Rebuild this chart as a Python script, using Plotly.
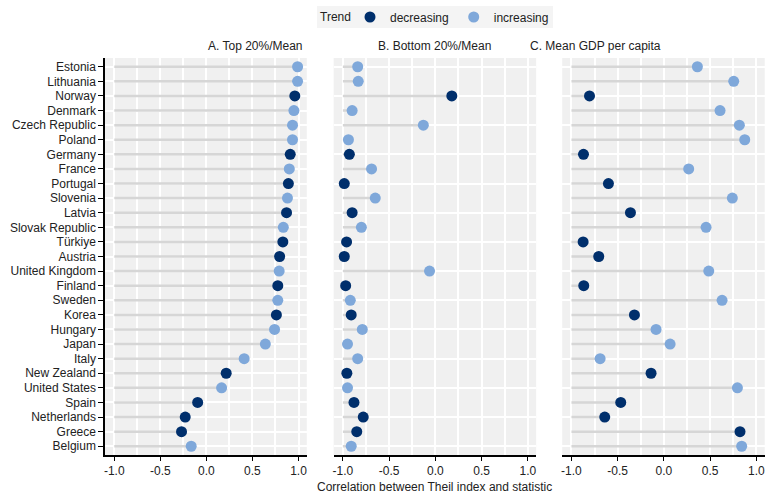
import plotly.graph_objects as go

countries = ["Estonia", "Lithuania", "Norway", "Denmark", "Czech Republic", "Poland", "Germany",
             "France", "Portugal", "Slovenia", "Latvia", "Slovak Republic", "Türkiye", "Austria",
             "United Kingdom", "Finland", "Sweden", "Korea", "Hungary", "Japan", "Italy",
             "New Zealand", "United States", "Spain", "Netherlands", "Greece", "Belgium"]
trend = ["increasing", "increasing", "decreasing", "increasing", "increasing", "increasing", "decreasing",
         "increasing", "decreasing", "increasing", "decreasing", "increasing", "decreasing", "decreasing",
         "increasing", "decreasing", "increasing", "decreasing", "increasing", "increasing", "increasing",
         "decreasing", "increasing", "decreasing", "decreasing", "decreasing", "increasing"]
top20 = [0.99, 0.99, 0.96, 0.95, 0.935, 0.935, 0.91, 0.90, 0.89, 0.88, 0.87, 0.835, 0.83, 0.795,
         0.79, 0.775, 0.775, 0.76, 0.74, 0.64, 0.41, 0.215, 0.165, -0.095, -0.23, -0.27, -0.165]
bottom20 = [-0.84, -0.834, 0.178, -0.90, -0.13, -0.94, -0.93, -0.69, -0.985, -0.65, -0.90, -0.80, -0.96, -0.985,
            -0.063, -0.97, -0.92, -0.91, -0.79, -0.95, -0.84, -0.957, -0.95, -0.88, -0.78, -0.85, -0.91]
gdp = [0.362, 0.755, -0.805, 0.607, 0.816, 0.874, -0.87, 0.268, -0.60, 0.74, -0.362, 0.456, -0.874, -0.705,
       0.485, -0.867, 0.629, -0.319, -0.085, 0.067, -0.69, -0.139, 0.795, -0.467, -0.64, 0.823, 0.841]

panels = [("A. Top 20%/Mean", top20), ("B. Bottom 20%/Mean", bottom20), ("C. Mean GDP per capita", gdp)]
colors = {"decreasing": "#002F6C", "increasing": "#7FA8DA"}
FONT = "Liberation Sans, Arial, sans-serif"
domains = [[0.137, 0.400], [0.435, 0.699], [0.733, 0.997]]
W, H, T, B = 767, 493, 58, 38
PH = H - T - B

fig = go.Figure()
for i, (title, vals) in enumerate(panels):
    xa = "x" if i == 0 else f"x{i+1}"
    ya = "y" if i == 0 else f"y{i+1}"
    lx, ly = [], []
    for c, v in zip(countries, vals):
        lx += [-1, v, None]
        ly += [c, c, None]
    fig.add_trace(go.Scatter(x=lx, y=ly, mode="lines", line=dict(color="#D6D6D6", width=2.5),
                             showlegend=False, hoverinfo="skip", xaxis=xa, yaxis=ya))
    for t in ["decreasing", "increasing"]:
        xs = [v for v, tr in zip(vals, trend) if tr == t]
        ys = [c for c, tr in zip(countries, trend) if tr == t]
        fig.add_trace(go.Scatter(x=xs, y=ys, mode="markers", name=t,
                                 marker=dict(color=colors[t], size=11),
                                 showlegend=(i == 0), xaxis=xa, yaxis=ya))
    axis_x = dict(domain=domains[i], range=[-1.1, 1.09], tickvals=[-1, -0.5, 0, 0.5, 1],
                  ticktext=["-1.0", "-0.5", "0.0", "0.5", "1.0"],
                  showgrid=True, gridcolor="white", gridwidth=1.5,
                  minor=dict(dtick=0.25, tick0=0, showgrid=True, gridcolor="white", gridwidth=1.5),
                  showline=True, linecolor="black", linewidth=1.5, ticks="outside", ticklen=4,
                  tickcolor="black", zeroline=False, anchor=ya,
                  tickfont=dict(family=FONT, size=12, color="#222"))
    axis_y = dict(categoryorder="array", categoryarray=countries, range=[26.6, -0.6],
                  showgrid=True, gridcolor="white", gridwidth=1.5, zeroline=False, anchor=xa,
                  tickfont=dict(family=FONT, size=12, color="#222"))
    if i == 0:
        axis_y.update(showline=True, linecolor="black", linewidth=1.5, ticks="outside", ticklen=5,
                      tickcolor="black", showticklabels=True)
    else:
        axis_y.update(showline=False, showticklabels=False, ticks="", matches="y")
    fig.update_layout(**{("xaxis" if i == 0 else f"xaxis{i+1}"): axis_x,
                         ("yaxis" if i == 0 else f"yaxis{i+1}"): axis_y})
    fig.add_annotation(text=title, x=(domains[i][0] + domains[i][1]) / 2, y=1.0, xref="paper", yref="paper",
                       yanchor="bottom", showarrow=False, yshift=3,
                       font=dict(family=FONT, size=12, color="#222"))

fig.add_annotation(text="Correlation between Theil index and statistic", x=0.567, y=-0.08,
                   xref="paper", yref="paper", yanchor="middle", showarrow=False,
                   font=dict(family=FONT, size=12, color="#222"))

# legend background box and title
fig.add_shape(type="rect", xref="paper", yref="paper", layer="below", line=dict(width=0),
              fillcolor="#F4F4F4", x0=317 / W, x1=553 / W,
              y0=(H - B - 28) / PH, y1=(H - B - 6) / PH)
fig.add_annotation(text="Trend", xref="paper", yref="paper", x=318 / W, xanchor="left",
                   y=(H - B - 17) / PH, yanchor="middle", showarrow=False,
                   font=dict(family=FONT, size=12, color="#222"))

fig.update_layout(
    width=W, height=H,
    margin=dict(l=0, r=0, t=T, b=B, autoexpand=False),
    paper_bgcolor="white", plot_bgcolor="#F0F0F0",
    font=dict(family=FONT, size=12, color="#222"),
    legend=dict(orientation="h", x=350 / W, xanchor="left", y=1 - 17 / H, yanchor="middle",
                xref="container", yref="container",
                bgcolor="rgba(0,0,0,0)", font=dict(family=FONT, size=12), itemwidth=30),
)

fig.write_html("out.html", post_script="document.body.style.margin='0';",
               config={"displayModeBar": False})
